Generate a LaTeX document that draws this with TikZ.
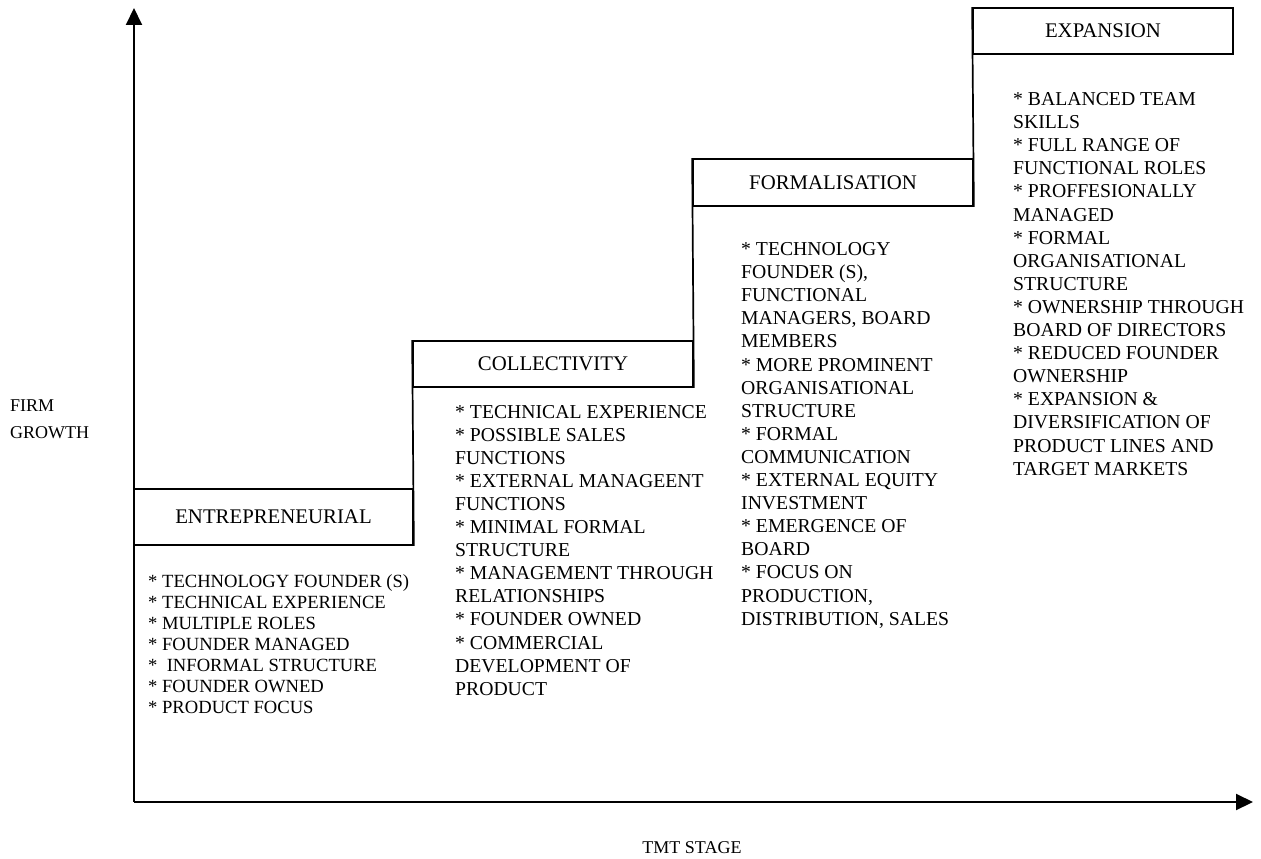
\documentclass[tikz,border=0pt]{standalone}
\usepackage{fontspec}
\setmainfont{Liberation Serif}
\usetikzlibrary{arrows.meta}
\begin{document}
\begin{tikzpicture}[x=1pt,y=-1pt,
  stagebox/.style={draw, line width=1.7pt, rectangle, inner sep=0pt,
    font=\fontsize{20.8}{24}\selectfont},
  % multi-line nodes are placed by the baseline of their last line
  traits/.style={anchor=base west, align=left, inner sep=0pt,
    font=\fontsize{19.7}{23.1}\selectfont},
  axisline/.style={line width=2pt, -{Triangle[length=17pt,width=16pt]}},
  riser/.style={line width=1.7pt},
  axislabel/.style={inner sep=0pt, font=\fontsize{18}{27}\selectfont}]
\useasboundingbox (0,0) rectangle (1261,859);

% axes
\coordinate (origin) at (134,802);
\coordinate (ytip) at (134,8);
\coordinate (xtip) at (1253,802);
\draw[axisline] (origin) -- (ytip);
\draw[axisline] (origin) -- (xtip);

\node[axislabel, anchor=base west, align=left] (ylab) at (10,438) {FIRM\\GROWTH};
\node[axislabel, anchor=base] (xlab) at (692,853) {TMT STAGE};

% stage boxes
\node[stagebox, minimum width=279pt, minimum height=56pt] (ent) at (273.5,517) {ENTREPRENEURIAL};
\node[stagebox, minimum width=280pt, minimum height=46pt] (col) at (553,364) {COLLECTIVITY};
\node[stagebox, minimum width=280pt, minimum height=47pt] (form) at (833,182.5) {FORMALISATION};
\node[stagebox, minimum width=260pt, minimum height=46pt] (exp) at (1103,31) {EXPANSION};

% staircase risers
\draw[riser] (ent.south east) -- (col.north west);
\draw[riser] (col.south east) -- (form.north west);
\draw[riser] (form.south east) -- (exp.north west);

% stage characteristics
\node[traits, font=\fontsize{18.6}{21.1}\selectfont] (entlist) at (148,713.6) {%
* TECHNOLOGY FOUNDER (S)\\
* TECHNICAL EXPERIENCE\\
* MULTIPLE ROLES\\
* FOUNDER MANAGED\\
*~ INFORMAL STRUCTURE\\
* FOUNDER OWNED\\
* PRODUCT FOCUS};

\node[traits] (collist) at (455,695.2) {%
* TECHNICAL EXPERIENCE\\
* POSSIBLE SALES\\
FUNCTIONS\\
* EXTERNAL MANAGEENT\\
FUNCTIONS\\
* MINIMAL FORMAL\\
STRUCTURE\\
* MANAGEMENT THROUGH\\
RELATIONSHIPS\\
* FOUNDER OWNED\\
* COMMERCIAL\\
DEVELOPMENT OF\\
PRODUCT};

\node[traits] (formlist) at (741,625.1) {%
* TECHNOLOGY\\
FOUNDER (S),\\
FUNCTIONAL\\
MANAGERS, BOARD\\
MEMBERS\\
* MORE PROMINENT\\
ORGANISATIONAL\\
STRUCTURE\\
* FORMAL\\
COMMUNICATION\\
* EXTERNAL EQUITY\\
INVESTMENT\\
* EMERGENCE OF\\
BOARD\\
* FOCUS ON\\
PRODUCTION,\\
DISTRIBUTION, SALES};

\node[traits] (explist) at (1013,475.1) {%
* BALANCED TEAM\\
SKILLS\\
* FULL RANGE OF\\
FUNCTIONAL ROLES\\
* PROFFESIONALLY\\
MANAGED\\
* FORMAL\\
ORGANISATIONAL\\
STRUCTURE\\
* OWNERSHIP THROUGH\\
BOARD OF DIRECTORS\\
* REDUCED FOUNDER\\
OWNERSHIP\\
* EXPANSION \&\\
DIVERSIFICATION OF\\
PRODUCT LINES AND\\
TARGET MARKETS};
\end{tikzpicture}
\end{document}
